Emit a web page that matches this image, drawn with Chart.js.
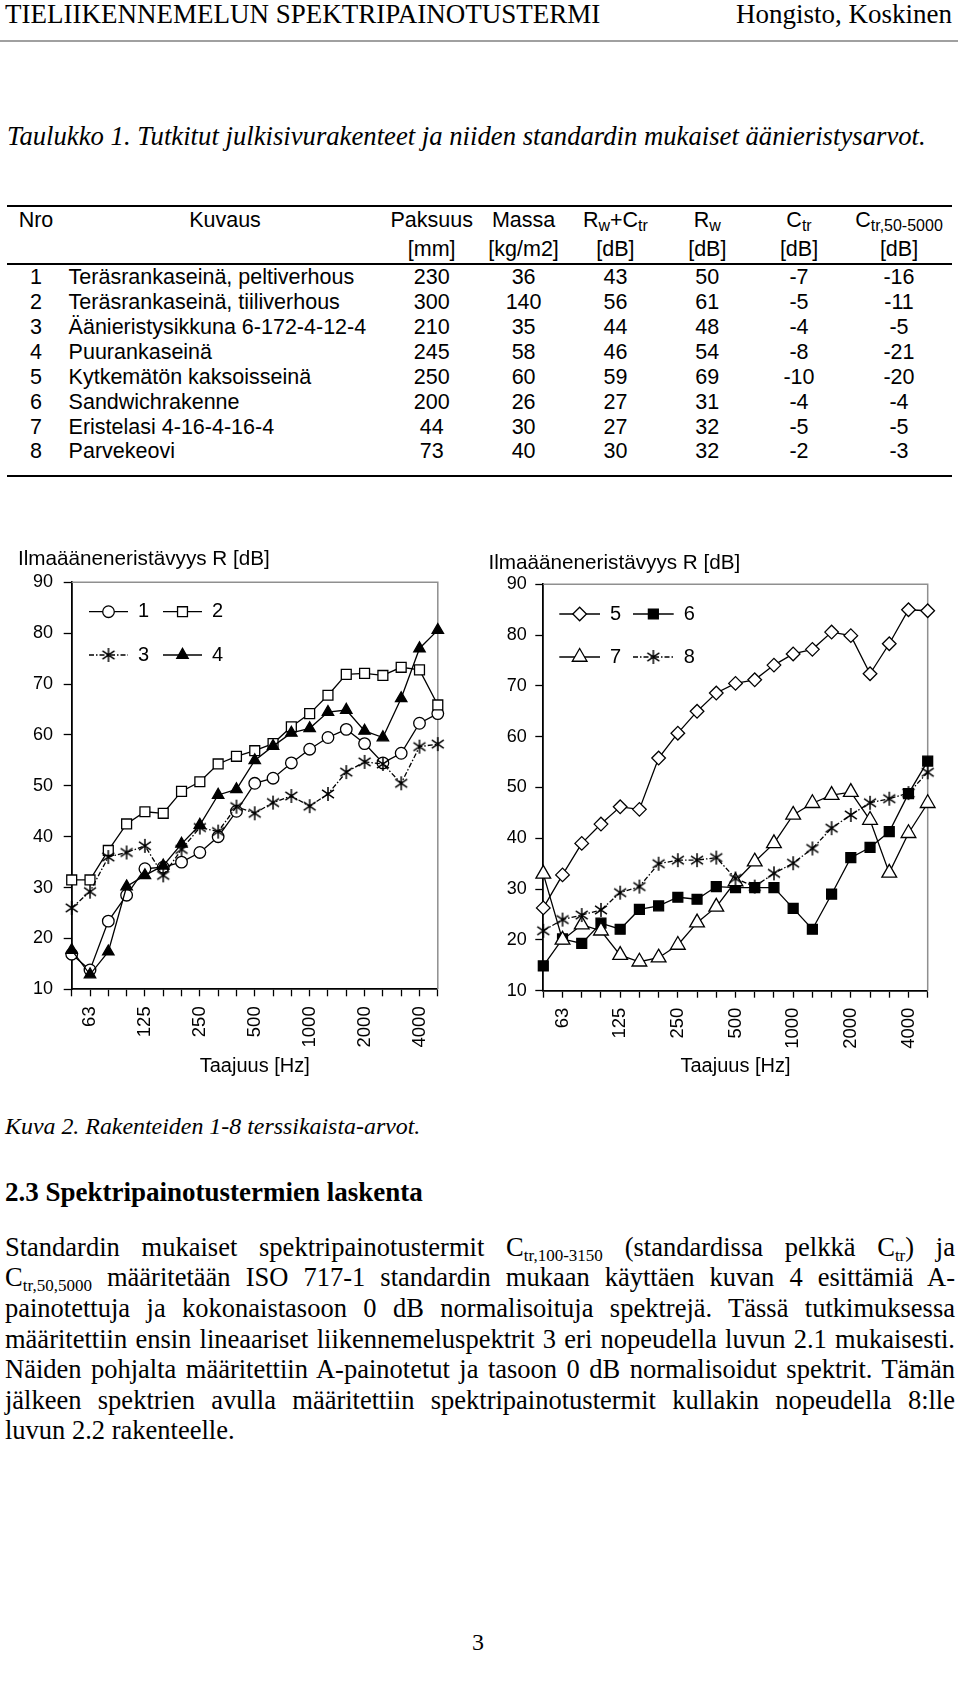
<!DOCTYPE html>
<html lang="fi">
<head>
<meta charset="utf-8">
<title>Rakenteiden 1-8 terssikaista-arvot</title>
<script src="https://cdn.jsdelivr.net/npm/chart.js@4.4.1/dist/chart.umd.min.js"></script>
<style>
  html, body { margin: 0; padding: 0; background: #fff; }
  body { width: 960px; height: 1684px; position: relative; overflow: hidden; color: #000; }
  .serif { font-family: "Liberation Serif", "Times New Roman", serif; }
  .sans { font-family: "Liberation Sans", Arial, sans-serif; }
  .abs { position: absolute; white-space: nowrap; }
  .rule { position: absolute; background: #000; }
  .row { position: absolute; left: 0; width: 960px; height: 24.9px; line-height: 24.9px; font-size: 21.5px; }
  .c { position: absolute; top: 0; width: 160px; margin-left: -80px; text-align: center; white-space: nowrap; }
  .c0 { left: 36px; }
  .c2 { left: 431.7px; } .c3 { left: 523.6px; } .c4 { left: 615.4px; }
  .c5 { left: 707.3px; } .c6 { left: 799px; } .c7 { left: 899px; }
  .desc { position: absolute; top: 0; left: 68.6px; white-space: nowrap; }
  .row sub { font-size: 16px; vertical-align: -4px; line-height: 0; }
  .par { position: absolute; left: 5px; width: 950px; font-size: 26.5px; }
  .par div { position: absolute; left: 0; width: 950px; height: 30.6px; line-height: 30.6px; text-align: justify; text-align-last: justify; }
  .par div.last { text-align: left; text-align-last: left; }
  .par sub { font-size: 17px; vertical-align: -5px; line-height: 0; }
  canvas { position: absolute; }
</style>
</head>
<body>
<div class="abs serif" style="left:5px; top:0.5px; font-size:27px; line-height:27px;">TIELIIKENNEMELUN SPEKTRIPAINOTUSTERMI</div>
<div class="abs serif" style="right:8px; top:0.5px; font-size:27px; line-height:27px;">Hongisto, Koskinen</div>
<div class="rule" style="left:0; top:39.7px; width:958px; height:2px; background:#a0a0a0;"></div>

<div class="abs serif" style="left:7px; top:122.8px; font-size:26.7px; line-height:26.7px; font-style:italic;">Taulukko 1. Tutkitut julkisivurakenteet ja niiden standardin mukaiset äänieristysarvot.</div>

<div class="rule" style="left:7px; top:204.5px; width:945px; height:2.5px;"></div>
<div class="row sans" style="top:208px;">
  <span class="c c0">Nro</span><span class="c" style="left:225px;">Kuvaus</span>
  <span class="c c2">Paksuus</span><span class="c c3">Massa</span>
  <span class="c c4">R<sub>w</sub>+C<sub>tr</sub></span><span class="c c5">R<sub>w</sub></span>
  <span class="c c6">C<sub>tr</sub></span><span class="c c7">C<sub>tr,50-5000</sub></span>
</div>
<div class="row sans" style="top:237.4px;">
  <span class="c c2">[mm]</span><span class="c c3">[kg/m2]</span><span class="c c4">[dB]</span>
  <span class="c c5">[dB]</span><span class="c c6">[dB]</span><span class="c c7">[dB]</span>
</div>
<div class="rule" style="left:7px; top:262.6px; width:945px; height:2.5px;"></div>
<div class="row sans" style="top:265.1px;"><span class="c c0">1</span><span class="desc">Teräsrankaseinä, peltiverhous</span><span class="c c2">230</span><span class="c c3">36</span><span class="c c4">43</span><span class="c c5">50</span><span class="c c6">-7</span><span class="c c7">-16</span></div>
<div class="row sans" style="top:290px;"><span class="c c0">2</span><span class="desc">Teräsrankaseinä, tiiliverhous</span><span class="c c2">300</span><span class="c c3">140</span><span class="c c4">56</span><span class="c c5">61</span><span class="c c6">-5</span><span class="c c7">-11</span></div>
<div class="row sans" style="top:314.9px;"><span class="c c0">3</span><span class="desc">Äänieristysikkuna 6-172-4-12-4</span><span class="c c2">210</span><span class="c c3">35</span><span class="c c4">44</span><span class="c c5">48</span><span class="c c6">-4</span><span class="c c7">-5</span></div>
<div class="row sans" style="top:339.8px;"><span class="c c0">4</span><span class="desc">Puurankaseinä</span><span class="c c2">245</span><span class="c c3">58</span><span class="c c4">46</span><span class="c c5">54</span><span class="c c6">-8</span><span class="c c7">-21</span></div>
<div class="row sans" style="top:364.7px;"><span class="c c0">5</span><span class="desc">Kytkemätön kaksoisseinä</span><span class="c c2">250</span><span class="c c3">60</span><span class="c c4">59</span><span class="c c5">69</span><span class="c c6">-10</span><span class="c c7">-20</span></div>
<div class="row sans" style="top:389.6px;"><span class="c c0">6</span><span class="desc">Sandwichrakenne</span><span class="c c2">200</span><span class="c c3">26</span><span class="c c4">27</span><span class="c c5">31</span><span class="c c6">-4</span><span class="c c7">-4</span></div>
<div class="row sans" style="top:414.5px;"><span class="c c0">7</span><span class="desc">Eristelasi 4-16-4-16-4</span><span class="c c2">44</span><span class="c c3">30</span><span class="c c4">27</span><span class="c c5">32</span><span class="c c6">-5</span><span class="c c7">-5</span></div>
<div class="row sans" style="top:439.4px;"><span class="c c0">8</span><span class="desc">Parvekeovi</span><span class="c c2">73</span><span class="c c3">40</span><span class="c c4">30</span><span class="c c5">32</span><span class="c c6">-2</span><span class="c c7">-3</span></div>
<div class="rule" style="left:7px; top:474.5px; width:945px; height:2.5px;"></div>

<canvas id="chartLeft" width="470" height="550" style="left:0; top:540px;"></canvas>
<canvas id="chartRight" width="485" height="550" style="left:475px; top:540px;"></canvas>

<div class="abs serif" style="left:5px; top:1115px; font-size:23.9px; line-height:23.9px; font-style:italic;">Kuva 2. Rakenteiden 1-8 terssikaista-arvot.</div>
<div class="abs serif" style="left:5px; top:1179.4px; font-size:27px; line-height:27px; font-weight:bold;">2.3 Spektripainotustermien laskenta</div>

<div class="par serif" style="top:1231.8px;">
  <div style="top:0;">Standardin mukaiset spektripainotustermit C<sub>tr,100-3150</sub> (standardissa pelkkä C<sub>tr</sub>) ja</div>
  <div style="top:30.6px;">C<sub>tr,50,5000</sub> määritetään ISO 717-1 standardin mukaan käyttäen kuvan 4 esittämiä A-</div>
  <div style="top:61.2px;">painotettuja ja kokonaistasoon 0 dB normalisoituja spektrejä. Tässä tutkimuksessa</div>
  <div style="top:91.8px;">määritettiin ensin lineaariset liikennemeluspektrit 3 eri nopeudella luvun 2.1 mukaisesti.</div>
  <div style="top:122.4px;">Näiden pohjalta määritettiin A-painotetut ja tasoon 0 dB normalisoidut spektrit. Tämän</div>
  <div style="top:153px;">jälkeen spektrien avulla määritettiin spektripainotustermit kullakin nopeudella 8:lle</div>
  <div class="last" style="top:183.6px;">luvun 2.2 rakenteelle.</div>
</div>

<div class="abs serif" style="left:470px; top:1630px; width:16px; text-align:center; font-size:24px; line-height:24px;">3</div>

<script>
// third-octave bands 50 ... 5000 Hz
const freqs = ['50', '63', '80', '100', '125', '160', '200', '250', '315', '400', '500',
  '630', '800', '1000', '1250', '1600', '2000', '2500', '3150', '4000', '5000'];
const freqLabels = ['63', '125', '250', '500', '1000', '2000', '4000'];
const yMin = 10, yMax = 90, yStep = 10;
const yTitle = 'Ilmaääneneristävyys R [dB]';
const xTitle = 'Taajuus [Hz]';

// sound reduction index R [dB], structures 1-4
const r1 = [16.9, 13.8, 23.4, 28.5, 33.7, 34, 35, 36.9, 40, 45, 50.5, 51.5, 54.5, 57.2, 59.5, 61.1, 58.3, 54.5, 56.4, 62.3, 64.2];
const r2 = [31.5, 31.5, 37.3, 42.5, 44.9, 44.6, 48.9, 50.8, 54.3, 55.8, 56.9, 58.3, 61.6, 64.2, 67.8, 71.9, 72.1, 71.7, 73.3, 72.8, 65.9];
const r3 = [26.0, 29.2, 36.0, 36.9, 38.2, 32.4, 37.5, 41.8, 41.0, 45.9, 44.6, 46.7, 48.0, 46.0, 48.4, 52.7, 54.7, 54.3, 50.5, 57.7, 58.2];
const r4 = [17.7, 12.9, 17.4, 30.2, 32.4, 34.3, 38.6, 42.3, 48.2, 49.3, 55.0, 57.8, 60.4, 61.3, 64.5, 64.9, 60.8, 59.5, 67.2, 77.0, 80.6];
// structures 5-8
const r5 = [26.3, 32.8, 39.0, 42.8, 46.2, 45.7, 55.8, 60.7, 65.0, 68.6, 70.5, 71.2, 74.1, 76.3, 77.2, 80.6, 79.9, 72.4, 78.3, 85.0, 84.8];
const r6 = [14.9, 20.2, 19.3, 23.3, 22.1, 26.0, 26.7, 28.4, 28.0, 30.5, 30.3, 30.3, 30.3, 26.2, 22.1, 29.0, 36.2, 38.2, 41.3, 48.8, 55.2];
const r7 = [33.0, 20.0, 23.0, 21.8, 17.0, 15.7, 16.5, 19.0, 23.4, 26.5, 31.5, 35.4, 39.0, 44.6, 46.9, 48.5, 49.1, 43.6, 33.2, 41.0, 46.9];
const r8 = [21.8, 24.0, 24.9, 25.9, 29.3, 30.5, 35.0, 35.7, 35.7, 36.2, 32.1, 30.5, 33.1, 35.1, 38.0, 42.0, 44.6, 47.0, 47.8, 48.9, 53.0];

const FONT = '"Liberation Sans", Arial, sans-serif';

// Excel-like star marker: vertical stroke plus an x
function asterisk(size) {
  const c = document.createElement('canvas');
  c.width = size; c.height = size;
  const g = c.getContext('2d');
  const m = size / 2, r = size / 2 - 1;
  g.strokeStyle = '#000';
  g.lineWidth = 1.5;
  g.beginPath();
  g.moveTo(m, m - r); g.lineTo(m, m + r);
  g.moveTo(m - 0.85 * r, m - 0.6 * r); g.lineTo(m + 0.85 * r, m + 0.6 * r);
  g.moveTo(m - 0.85 * r, m + 0.6 * r); g.lineTo(m + 0.85 * r, m - 0.6 * r);
  g.stroke();
  return c;
}
const star = asterisk(16);
const dashDot = [5, 2, 1.5, 2];

// later series are drawn on top, as in the original
function series(label, data, n, style) {
  return Object.assign({
    label: label,
    data: data,
    order: 4 - n,
    borderColor: '#000',
    borderWidth: 1.3,
    pointBorderColor: '#000',
    pointBorderWidth: 1.3,
    pointBackgroundColor: '#fff',
    pointHoverRadius: 0,
    tension: 0,
    fill: false,
    clip: false
  }, style);
}

// plot frame: grey top and right edges
const frame = {
  id: 'frame',
  beforeDatasetsDraw(chart) {
    const a = chart.chartArea, ctx = chart.ctx;
    ctx.save();
    ctx.strokeStyle = '#8f8f8f';
    ctx.lineWidth = 1.5;
    ctx.beginPath();
    ctx.moveTo(a.left, a.top);
    ctx.lineTo(a.right, a.top);
    ctx.lineTo(a.right, a.bottom);
    ctx.stroke();
    ctx.restore();
  }
};

// legend inside the plot, two columns, line + marker + label
const insetLegend = {
  id: 'insetLegend',
  afterDraw(chart, args, opts) {
    const ctx = chart.ctx;
    ctx.save();
    ctx.font = '20px ' + FONT;
    ctx.textBaseline = 'middle';
    chart.data.datasets.forEach((ds, i) => {
      const x = opts.x + (i % 2) * opts.colW;
      const y = opts.y + Math.floor(i / 2) * opts.rowH;
      ctx.strokeStyle = '#000';
      ctx.lineWidth = ds.borderWidth;
      ctx.setLineDash(ds.borderDash || []);
      ctx.beginPath();
      ctx.moveTo(x, y);
      ctx.lineTo(x + opts.lineW, y);
      ctx.stroke();
      ctx.setLineDash([]);
      ctx.fillStyle = ds.pointBackgroundColor;
      ctx.lineWidth = ds.pointBorderWidth;
      if (Chart.helpers && Chart.helpers.drawPoint) {
        Chart.helpers.drawPoint(ctx, {
          pointStyle: ds.pointStyle, rotation: 0,
          radius: ds.pointRadius, borderWidth: ds.pointBorderWidth
        }, x + opts.lineW / 2, y);
      }
      ctx.fillStyle = '#000';
      ctx.fillText(ds.label, x + opts.lineW + 10, y);
    });
    ctx.restore();
  }
};

function makeChart(id, datasets, geo) {
  return new Chart(document.getElementById(id), {
    type: 'line',
    data: { labels: freqs, datasets: datasets },
    plugins: [frame, insetLegend],
    options: {
      responsive: false,
      animation: false,
      devicePixelRatio: 1,
      events: [],
      layout: { padding: { left: geo.padLeft, right: geo.padRight, top: 0, bottom: 0 } },
      plugins: {
        legend: { display: false },
        tooltip: { enabled: false },
        title: {
          display: true, text: yTitle, align: 'start', color: '#000',
          font: { family: FONT, size: 20.7, weight: 'normal', lineHeight: 1.2 },
          padding: { top: geo.titleTop, bottom: geo.titleBottom }
        },
        insetLegend: geo.legend
      },
      scales: {
        x: {
          type: 'category',
          offset: false,
          border: { display: true, color: '#000', width: 1.8 },
          grid: { display: true, drawOnChartArea: false, drawTicks: true, tickLength: 7, offset: false, tickColor: '#000', tickWidth: 1.3 },
          ticks: {
            autoSkip: false, maxRotation: 90, minRotation: 90, padding: 10, color: '#000',
            font: { family: FONT, size: 18.5 },
            callback(v) {
              const l = this.getLabelForValue(v);
              return freqLabels.includes(l) ? l : '';
            }
          },
          title: {
            display: true, text: xTitle, color: '#000',
            font: { family: FONT, size: 20, lineHeight: 1.2 },
            padding: { top: 2, bottom: geo.xTitleBottom }
          },
          afterFit(s) { s.height = geo.xHeight; }
        },
        y: {
          min: yMin, max: yMax,
          border: { display: true, color: '#000', width: 1.8 },
          grid: { display: true, drawOnChartArea: false, drawTicks: true, tickLength: 8, tickColor: '#000', tickWidth: 1.3 },
          ticks: { stepSize: yStep, padding: geo.yPad, color: '#000', font: { family: FONT, size: 18 } },
          afterFit(s) { s.width = geo.yWidth; }
        }
      }
    }
  });
}

makeChart('chartLeft', [
  series('1', r1, 0, { pointStyle: 'circle', pointRadius: 5.8 }),
  series('2', r2, 1, { pointStyle: 'rect', pointRadius: 7 }),
  series('3', r3, 2, { pointStyle: star, pointRadius: 7, borderDash: dashDot }),
  series('4', r4, 3, { pointStyle: 'triangle', pointRadius: 6.6, pointBackgroundColor: '#000' })
], {
  padLeft: 18, padRight: 14.3, yWidth: 53.7, yPad: 10.7,
  titleTop: 7.1, titleBottom: 10.4, xHeight: 100.7, xTitleBottom: 12,
  legend: { x: 89, y: 71.7, colW: 74, rowH: 43.3, lineW: 39 }
});

makeChart('chartRight', [
  series('5', r5, 0, { pointStyle: 'rectRot', pointRadius: 6.8 }),
  series('6', r6, 1, { pointStyle: 'rect', pointRadius: 7, pointBackgroundColor: '#000' }),
  series('7', r7, 2, { pointStyle: 'triangle', pointRadius: 8.5 }),
  series('8', r8, 3, { pointStyle: star, pointRadius: 7, borderDash: dashDot })
], {
  padLeft: 13.5, padRight: 32.3, yWidth: 54.8, yPad: 8.6,
  titleTop: 11.1, titleBottom: 8.4, xHeight: 99.3, xTitleBottom: 11.3,
  legend: { x: 84.3, y: 74, colW: 73.7, rowH: 43, lineW: 40.7 }
});
</script>
</body>
</html>
